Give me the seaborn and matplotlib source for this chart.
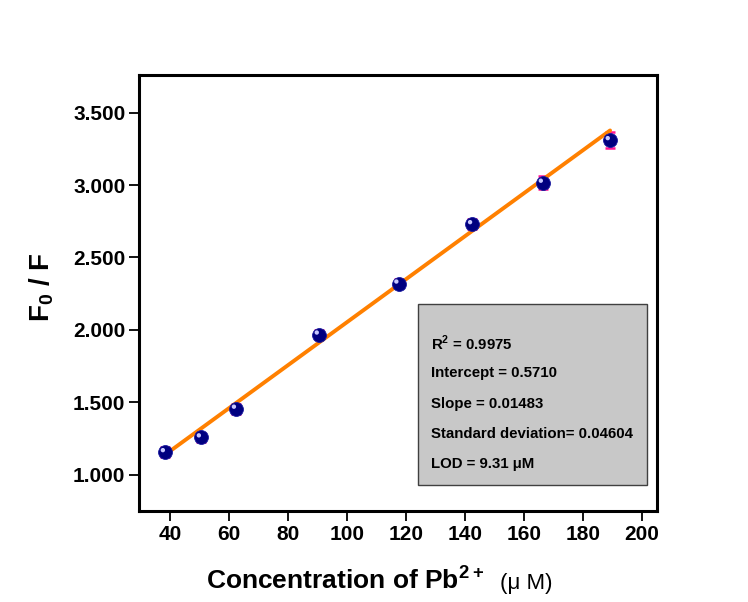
import numpy as np
import pandas as pd
import matplotlib
matplotlib.use("Agg")
import matplotlib.pyplot as plt
import seaborn as sns

# Pb2+ concentration (uM) and fluorescence quenching ratio F0/F
conc = [38.3, 50.5, 62.4, 90.5, 117.5, 142.5, 166.5, 189.2]
f0_f = [1.156, 1.258, 1.456, 1.968, 2.320, 2.730, 3.016, 3.310]
f0_f_err = [0.035, 0.03, 0.035, 0.03, 0.03, 0.035, 0.045, 0.055]

# linear-fit statistics
r_squared = "0.9975"
intercept = 0.5710
slope = 0.01483
std_dev = "0.04604"
lod = "9.31"

x_ticks = [40, 60, 80, 100, 120, 140, 160, 180, 200]
y_ticks = [1.0, 1.5, 2.0, 2.5, 3.0, 3.5]

sns.set_theme(style="ticks")
plt.rcParams["font.family"] = ["Liberation Sans", "DejaVu Sans"]
plt.rcParams["mathtext.fontset"] = "custom"
plt.rcParams["mathtext.rm"] = "Liberation Sans"
plt.rcParams["mathtext.bf"] = "Liberation Sans:bold"
plt.rcParams["text.color"] = "black"
plt.rcParams["axes.labelcolor"] = "black"
plt.rcParams["xtick.color"] = "black"
plt.rcParams["ytick.color"] = "black"

df = pd.DataFrame({"conc": conc, "ratio": f0_f, "err": f0_f_err})
fit_x = [conc[0], conc[-1]]
fit = pd.DataFrame({"conc": fit_x, "ratio": [intercept + slope * v for v in fit_x]})

fig = plt.figure(figsize=(7.48, 6.02), dpi=100)
ax = fig.add_axes([0.1862, 0.1512, 0.6917, 0.7243])

ax.errorbar(df["conc"], df["ratio"], yerr=df["err"], fmt="none",
            ecolor="#ff1493", elinewidth=1.6, capsize=3.5, capthick=1.8, zorder=2)
sns.lineplot(data=fit, x="conc", y="ratio", color="#ff8000", lw=2.8, ax=ax, zorder=3)
sns.scatterplot(data=df, x="conc", y="ratio", s=100, color="#000080",
                edgecolor="#1a1aa0", linewidth=0.6, ax=ax, zorder=4)
# small specular highlight on each sphere
ax.scatter(np.array(conc) - 0.8, np.array(f0_f) + 0.014, s=10, color="#c8c8ff",
           edgecolor="none", zorder=5)

ax.set_xlim(29.5, 205)
ax.set_ylim(0.75, 3.76)
ax.set_xticks(x_ticks)
ax.set_yticks(y_ticks)
ax.set_yticklabels([f"{v:.3f}" for v in y_ticks])
ax.tick_params(axis="both", direction="out", length=7, width=1.3, labelsize=15,
               color="black", labelcolor="black", pad=3)
for lbl in ax.get_xticklabels() + ax.get_yticklabels():
    lbl.set_fontweight("bold")
for sp in ax.spines.values():
    sp.set_visible(True)
    sp.set_linewidth(2.2)
    sp.set_color("black")

ax.set_xlabel("")
ax.set_ylabel(r"$\mathbf{F_0}$ / F", fontsize=20, fontweight="bold")
ax.yaxis.set_label_coords(-0.16, 0.514)
fig.text(0.275, 0.022, r"Concentration of Pb$^{\mathbf{2+}}$", fontsize=19,
         fontweight="bold", ha="left", va="baseline")
fig.text(0.668, 0.022, "(\u03bc M)", fontsize=16, ha="left", va="baseline")

# fit statistics panel
box_x0, box_y0 = 418, 304
box_w, box_h = 229, 181
ax.add_patch(plt.Rectangle((box_x0 / 748, 1 - (box_y0 + box_h) / 602), box_w / 748, box_h / 602,
                           transform=fig.transFigure, facecolor="#c8c8c8",
                           edgecolor="#404040", lw=1.0, zorder=6, clip_on=False))
lines = [
    r"R$^{\mathbf{2}}$ = " + r_squared,
    f"Intercept = {intercept:.4f}",
    f"Slope = {slope:.5f}",
    f"Standard deviation= {std_dev}",
    f"LOD = {lod} \u03bcM",
]
for i, t in enumerate(lines):
    fig.text(431 / 748, 1 - (343 + 30.3 * i) / 602, t, fontsize=10.8, fontweight="bold",
             ha="left", va="center", zorder=7)

fig.savefig("out.png", dpi=100, facecolor="white")
